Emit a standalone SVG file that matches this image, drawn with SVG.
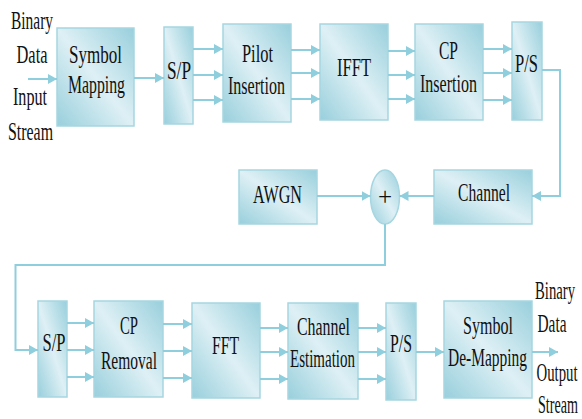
<svg xmlns="http://www.w3.org/2000/svg" width="582" height="419" viewBox="0 0 582 419">
<defs>
<linearGradient id="g" x1="1" y1="0" x2="0" y2="1">
<stop offset="0" stop-color="#98cfdc"/>
<stop offset="0.5" stop-color="#def0f5"/>
<stop offset="1" stop-color="#98cfdc"/>
</linearGradient>
<marker id="ah" markerUnits="userSpaceOnUse" markerWidth="10" markerHeight="11" refX="9" refY="5" orient="auto">
<path d="M0,0 L9,5 L0,10 z" fill="#8fcedc"/>
</marker>
<style>
.box{fill:url(#g);stroke:#a6d6e1;stroke-width:1.5}
.t{font-family:"Liberation Serif","Times New Roman",serif;font-size:25px;fill:#111;text-anchor:middle}
.c{fill:none;stroke:#8fcedc;stroke-width:2;marker-end:url(#ah)}
</style>
</defs>
<rect width="582" height="419" fill="#fff"/>

<g id="labels-in">
<text class="t" x="32" y="29" textLength="42" lengthAdjust="spacingAndGlyphs">Binary</text>
<text class="t" x="32" y="63" textLength="31" lengthAdjust="spacingAndGlyphs">Data</text>
<text class="t" x="30" y="105" textLength="34" lengthAdjust="spacingAndGlyphs">Input</text>
<text class="t" x="30.5" y="140" textLength="45" lengthAdjust="spacingAndGlyphs">Stream</text>
</g>

<g id="symbol-mapping">
<rect class="box" x="57" y="28" width="77" height="98"/>
<text class="t" x="95.5" y="63" textLength="53" lengthAdjust="spacingAndGlyphs">Symbol</text>
<text class="t" x="96.5" y="93" textLength="57" lengthAdjust="spacingAndGlyphs">Mapping</text>
</g>
<g id="sp1">
<rect class="box" x="164" y="27" width="29" height="97"/>
<text class="t" x="179" y="79" textLength="24" lengthAdjust="spacingAndGlyphs">S/P</text>
</g>
<g id="pilot">
<rect class="box" x="223" y="24" width="68" height="98"/>
<text class="t" x="257.5" y="62" textLength="31" lengthAdjust="spacingAndGlyphs">Pilot</text>
<text class="t" x="256.5" y="94" textLength="57" lengthAdjust="spacingAndGlyphs">Insertion</text>
</g>
<g id="ifft">
<rect class="box" x="320" y="24" width="68" height="96"/>
<text class="t" x="354" y="76" textLength="34" lengthAdjust="spacingAndGlyphs">IFFT</text>
</g>
<g id="cp-ins">
<rect class="box" x="415" y="24" width="68" height="96"/>
<text class="t" x="448.5" y="59" textLength="19" lengthAdjust="spacingAndGlyphs">CP</text>
<text class="t" x="448.5" y="92" textLength="57" lengthAdjust="spacingAndGlyphs">Insertion</text>
</g>
<g id="ps1">
<rect class="box" x="512" y="22" width="30" height="98"/>
<text class="t" x="526.5" y="72" textLength="23" lengthAdjust="spacingAndGlyphs">P/S</text>
</g>

<g id="awgn">
<rect class="box" x="239" y="170" width="78" height="54"/>
<text class="t" x="277.5" y="203" textLength="49" lengthAdjust="spacingAndGlyphs">AWGN</text>
</g>
<g id="adder">
<ellipse class="box" cx="385" cy="197" rx="14.5" ry="27"/>
<text class="t" x="385" y="205">+</text>
</g>
<g id="channel">
<rect class="box" x="434" y="170" width="98" height="54"/>
<text class="t" x="484" y="201" textLength="52" lengthAdjust="spacingAndGlyphs">Channel</text>
</g>

<g id="sp2">
<rect class="box" x="38" y="301" width="29" height="96"/>
<text class="t" x="54" y="351" textLength="23" lengthAdjust="spacingAndGlyphs">S/P</text>
</g>
<g id="cp-rem">
<rect class="box" x="94" y="301" width="69" height="96"/>
<text class="t" x="129" y="334" textLength="18" lengthAdjust="spacingAndGlyphs">CP</text>
<text class="t" x="129" y="369" textLength="56" lengthAdjust="spacingAndGlyphs">Removal</text>
</g>
<g id="fft">
<rect class="box" x="192" y="303" width="68" height="95"/>
<text class="t" x="225.5" y="354" textLength="27" lengthAdjust="spacingAndGlyphs">FFT</text>
</g>
<g id="ch-est">
<rect class="box" x="288" y="303" width="70" height="96"/>
<text class="t" x="323.5" y="335" textLength="53" lengthAdjust="spacingAndGlyphs">Channel</text>
<text class="t" x="322.5" y="367" textLength="65" lengthAdjust="spacingAndGlyphs">Estimation</text>
</g>
<g id="ps2">
<rect class="box" x="386" y="303" width="30" height="97"/>
<text class="t" x="401" y="352" textLength="22" lengthAdjust="spacingAndGlyphs">P/S</text>
</g>
<g id="demap">
<rect class="box" x="444" y="301" width="88" height="97"/>
<text class="t" x="488" y="334" textLength="50" lengthAdjust="spacingAndGlyphs">Symbol</text>
<text class="t" x="487.5" y="366" textLength="79" lengthAdjust="spacingAndGlyphs">De-Mapping</text>
</g>

<g id="labels-out">
<text class="t" x="555" y="299" textLength="40" lengthAdjust="spacingAndGlyphs">Binary</text>
<text class="t" x="552" y="332" textLength="29" lengthAdjust="spacingAndGlyphs">Data</text>
<text class="t" x="557" y="381" textLength="41" lengthAdjust="spacingAndGlyphs">Output</text>
<text class="t" x="558" y="413" textLength="40" lengthAdjust="spacingAndGlyphs">Stream</text>
</g>

<g id="connectors">
<path class="c" d="M28,79 H57"/>
<path class="c" d="M134,78 H164"/>
<path class="c" d="M193,49 H223"/>
<path class="c" d="M193,75 H223"/>
<path class="c" d="M193,100 H223"/>
<path class="c" d="M291,50 H320"/>
<path class="c" d="M291,73 H320"/>
<path class="c" d="M291,99 H320"/>
<path class="c" d="M388,51 H415"/>
<path class="c" d="M388,75 H415"/>
<path class="c" d="M388,99 H415"/>
<path class="c" d="M483,49 H512"/>
<path class="c" d="M483,73 H512"/>
<path class="c" d="M483,100 H512"/>
<path class="c" d="M542,70 H560 V196 H532"/>
<path class="c" d="M434,196 H399.5"/>
<path class="c" d="M317,196 H370.5"/>
<path class="c" d="M385,224 V265 H15.5 V350 H38"/>
<path class="c" d="M67,323 H94"/>
<path class="c" d="M67,350 H94"/>
<path class="c" d="M67,377 H94"/>
<path class="c" d="M163,324 H192"/>
<path class="c" d="M163,351 H192"/>
<path class="c" d="M163,378 H192"/>
<path class="c" d="M260,328 H288"/>
<path class="c" d="M260,352 H288"/>
<path class="c" d="M260,379 H288"/>
<path class="c" d="M358,328 H386"/>
<path class="c" d="M358,352 H386"/>
<path class="c" d="M358,379 H386"/>
<path class="c" d="M416,352 H444"/>
<path class="c" d="M532,352 H558"/>
</g>
</svg>
